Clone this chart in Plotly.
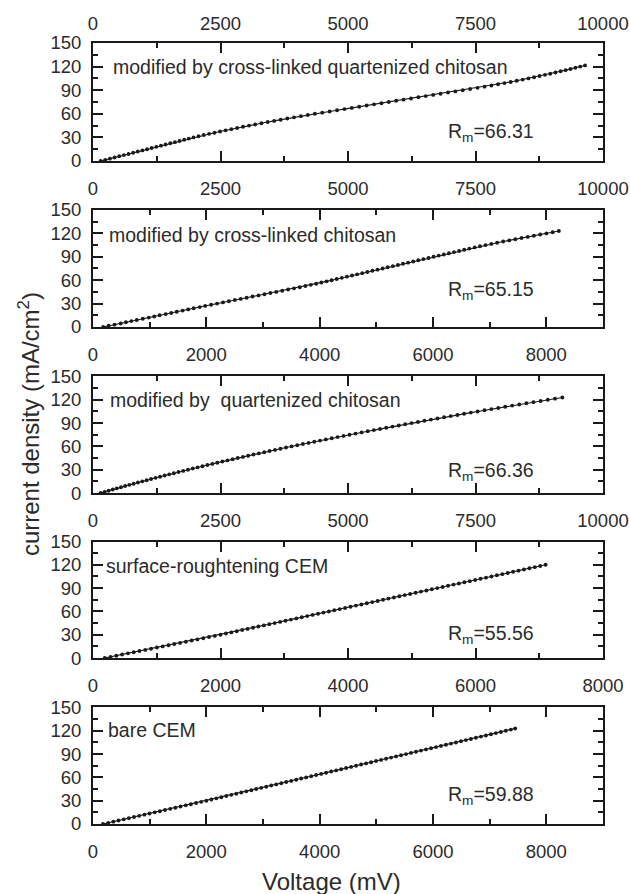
import plotly.graph_objects as go

# ---------------- data ----------------
current_density = [0, 1.5, 3, 4.5, 6, 7.5, 9, 10.5, 12, 13.5, 15, 16.5, 18, 19.5, 21, 22.5, 24, 25.5,
                   27, 28.5, 30, 31.5, 33, 34.5, 36, 37.5, 39, 40.5, 42, 43.5, 45, 46.5, 48, 49.5,
                   51, 52.5, 54, 55.5, 57, 58.5, 60, 61.5, 63, 64.5, 66, 67.5, 69, 70.5, 72, 73.5,
                   75, 76.5, 78, 79.5, 81, 82.5, 84, 85.5, 87, 88.5, 90, 91.5, 93, 94.5, 96, 97.5,
                   99, 100.5, 102, 103.5, 105, 106.5, 108, 109.5, 111, 112.5, 114, 115.5, 117,
                   118.5, 120, 121.5, 123]

v_cross_quat = [150, 241, 332, 423, 514, 605, 696, 787, 878, 969, 1060, 1151, 1242, 1333, 1424,
                1515, 1606, 1697, 1788, 1879, 1970, 2070, 2172, 2276, 2382, 2490, 2600, 2712, 2826,
                2942, 3060, 3180, 3302, 3426, 3552, 3680, 3810, 3942, 4076, 4212, 4350, 4495, 4640,
                4785, 4930, 5075, 5220, 5365, 5510, 5655, 5800, 5945, 6090, 6235, 6380, 6525, 6670,
                6815, 6960, 7105, 7250, 7395, 7540, 7678, 7812, 7942, 8068, 8190, 8309, 8425, 8538,
                8648, 8756, 8862, 8966, 9068, 9168, 9266, 9363, 9459, 9554, 9648]

v_cross = [180, 276, 380, 488, 580, 676, 772, 880, 985, 1080, 1176, 1284, 1380, 1478, 1582, 1680,
           1776, 1884, 1980, 2085, 2189, 2294, 2398, 2503, 2607, 2712, 2816, 2921, 3025, 3130, 3234,
           3339, 3443, 3547, 3649, 3748, 3844, 3938, 4030, 4121, 4211, 4301, 4391, 4481, 4571, 4661,
           4751, 4841, 4931, 5021, 5111, 5201, 5291, 5381, 5471, 5561, 5651, 5741, 5831, 5921, 6011,
           6101, 6191, 6281, 6371, 6461, 6551, 6642, 6735, 6830, 6927, 7028, 7132, 7238, 7345, 7453,
           7562, 7671, 7781, 7891, 8001, 8111, 8221]

v_quat = [150, 228, 307, 386, 467, 548, 630, 713, 796, 881, 966, 1052, 1139, 1226, 1315, 1404,
          1494, 1585, 1676, 1769, 1862, 1956, 2051, 2146, 2243, 2340, 2438, 2537, 2636, 2737, 2838,
          2940, 3043, 3146, 3251, 3356, 3462, 3569, 3676, 3785, 3894, 4004, 4115, 4226, 4339, 4452,
          4566, 4681, 4796, 4913, 5030, 5148, 5267, 5386, 5507, 5628, 5750, 5873, 5996, 6121, 6246,
          6372, 6499, 6626, 6755, 6884, 7014, 7145, 7276, 7409, 7542, 7676, 7811, 7946, 8083, 8220,
          8358, 8497, 8636, 8777, 8918, 9060, 9203]

v_rough = [184, 275, 366, 457, 548, 639, 729, 820, 911, 1002, 1093, 1184, 1275, 1366, 1457, 1548,
           1638, 1729, 1820, 1911, 2000, 2085, 2170, 2255, 2340, 2425, 2510, 2595, 2680, 2765, 2850,
           2935, 3020, 3105, 3190, 3275, 3360, 3445, 3530, 3615, 3700, 3785, 3870, 3955, 4040, 4125,
           4210, 4295, 4380, 4465, 4550, 4635, 4720, 4805, 4890, 4975, 5060, 5145, 5230, 5315, 5400,
           5485, 5570, 5655, 5740, 5825, 5910, 5995, 6080, 6165, 6250, 6335, 6420, 6505, 6590, 6675,
           6760, 6845, 6930, 7015, 7100]

v_bare = [177, 268, 359, 451, 542, 633, 724, 815, 907, 998, 1089, 1180, 1271, 1363, 1454, 1545,
          1636, 1727, 1819, 1910, 2000, 2088, 2176, 2264, 2352, 2441, 2529, 2617, 2705, 2793, 2881,
          2969, 3057, 3145, 3233, 3322, 3410, 3498, 3586, 3674, 3762, 3850, 3938, 4026, 4114, 4203,
          4291, 4379, 4467, 4555, 4643, 4731, 4819, 4907, 4995, 5084, 5172, 5260, 5348, 5436, 5524,
          5612, 5700, 5788, 5876, 5965, 6053, 6141, 6229, 6317, 6405, 6493, 6581, 6669, 6757, 6846,
          6934, 7022, 7110, 7198, 7286, 7374, 7450]

panel_labels = ["modified by cross-linked quartenized chitosan",
                "modified by cross-linked chitosan",
                "modified by  quartenized chitosan",
                "surface-roughtening CEM",
                "bare CEM"]
rm_values = ["66.31", "65.15", "66.36", "55.56", "59.88"]
x_max = [10000, 9000, 10000, 8000, 9000]
x_dtick = [2500, 2000, 2500, 2000, 2000]
y_ticks = [0, 30, 60, 90, 120, 150]
x_title = "Voltage (mV)"
y_title = "current density (mA/cm<sup>2</sup>)"

series = [v_cross_quat, v_cross, v_quat, v_rough, v_bare]

# ---------------- layout constants ----------------
W, H = 630, 894
ML, MR, MT, MB = 93, 27, 43, 70
domains = [[0.8489, 1.0], [0.6364, 0.7862], [0.4238, 0.5730], [0.2125, 0.3617], [0.0, 0.1492]]
label_x = [0.0347, 0.0269, 0.0288, 0.021, 0.025]
label_y = [119, 118, 120, 118, 121]
rm_x = 0.693
rm_y = [36, 47, 28, 30, 37]

INK = "#1a1a1a"
TXT = "#2b2b2b"
FONT = "Liberation Sans, Arial, Helvetica, sans-serif"
tickfont = dict(family=FONT, size=18.5, color=TXT)


def sfx(n):
    return "" if n == 1 else str(n)


fig = go.Figure()
for i, v in enumerate(series):
    n = i + 1
    fig.add_trace(go.Scatter(
        x=v, y=current_density[:len(v)], mode="lines+markers",
        line=dict(color=INK, width=1.1),
        marker=dict(size=3.9, color=INK),
        xaxis=f"x{sfx(n)}", yaxis=f"y{sfx(n)}", showlegend=False, hoverinfo="skip"))

# empty trace to carry the top tick labels of the first panel
fig.add_trace(go.Scatter(x=[], y=[], xaxis="x6", yaxis="y", showlegend=False))

layout = dict(
    width=W, height=H,
    margin=dict(l=ML, r=MR, t=MT, b=MB, pad=0, autoexpand=False),
    paper_bgcolor="white", plot_bgcolor="white",
    font=dict(family=FONT, color=TXT),
    showlegend=False,
)

axis_common = dict(
    showline=True, linecolor=INK, linewidth=2, mirror="ticks",
    ticks="inside", ticklen=10, tickwidth=1.6, tickcolor=INK,
    showgrid=False, zeroline=False, tickfont=tickfont,
    exponentformat="none", separatethousands=False, automargin=False,
)

annotations = []
for i in range(5):
    n = i + 1
    s = sfx(n)
    layout[f"xaxis{n}"] = dict(
        axis_common, domain=[0, 1], anchor=f"y{s}", range=[0, x_max[i]],
        tick0=0, dtick=x_dtick[i], ticklabelstandoff=10, tickformat="d",
        minor=dict(ticks="inside", ticklen=5, tickwidth=1.6, tickcolor=INK,
                   dtick=x_dtick[i] / 2, tick0=0, showgrid=False),
    )
    layout[f"yaxis{n}"] = dict(
        axis_common, domain=domains[i], anchor=f"x{s}", range=[0, 150],
        tickvals=y_ticks, ticklabelstandoff=6,
        minor=dict(ticks="inside", ticklen=5, tickwidth=1.6, tickcolor=INK,
                   dtick=15, tick0=0, showgrid=False),
    )
    annotations.append(dict(
        text=panel_labels[i], xref=f"x{s} domain", yref=f"y{s}",
        x=label_x[i], y=label_y[i], xanchor="left", yanchor="middle",
        showarrow=False, font=dict(family=FONT, size=19.5, color=TXT)))
    annotations.append(dict(
        text=f"R<sub>m</sub>=" + rm_values[i], xref=f"x{s} domain", yref=f"y{s}",
        x=rm_x, y=rm_y[i], xanchor="left", yanchor="middle",
        showarrow=False, font=dict(family=FONT, size=19.5, color=TXT)))

layout["xaxis6"] = dict(
    overlaying="x", side="top", anchor="y", range=[0, x_max[0]],
    tick0=0, dtick=x_dtick[0], ticks="", showline=False, showgrid=False,
    zeroline=False, tickfont=tickfont, ticklabelstandoff=8,
    exponentformat="none", tickformat="d", automargin=False,
)

annotations.append(dict(
    text=y_title, xref="paper", yref="paper", x=-0.1255, y=0.512,
    xanchor="center", yanchor="middle", textangle=-90, showarrow=False,
    font=dict(family=FONT, size=24, color=TXT)))
annotations.append(dict(
    text=x_title, xref="paper", yref="paper", x=0.4686, y=-0.0739,
    xanchor="center", yanchor="middle", showarrow=False,
    font=dict(family=FONT, size=24, color=TXT)))

layout["annotations"] = annotations
fig.update_layout(**layout)
fig.write_html("out.html",
               config={"displayModeBar": False},
               post_script="document.body.style.margin='0px';"
                           "document.body.style.overflow='hidden';")
